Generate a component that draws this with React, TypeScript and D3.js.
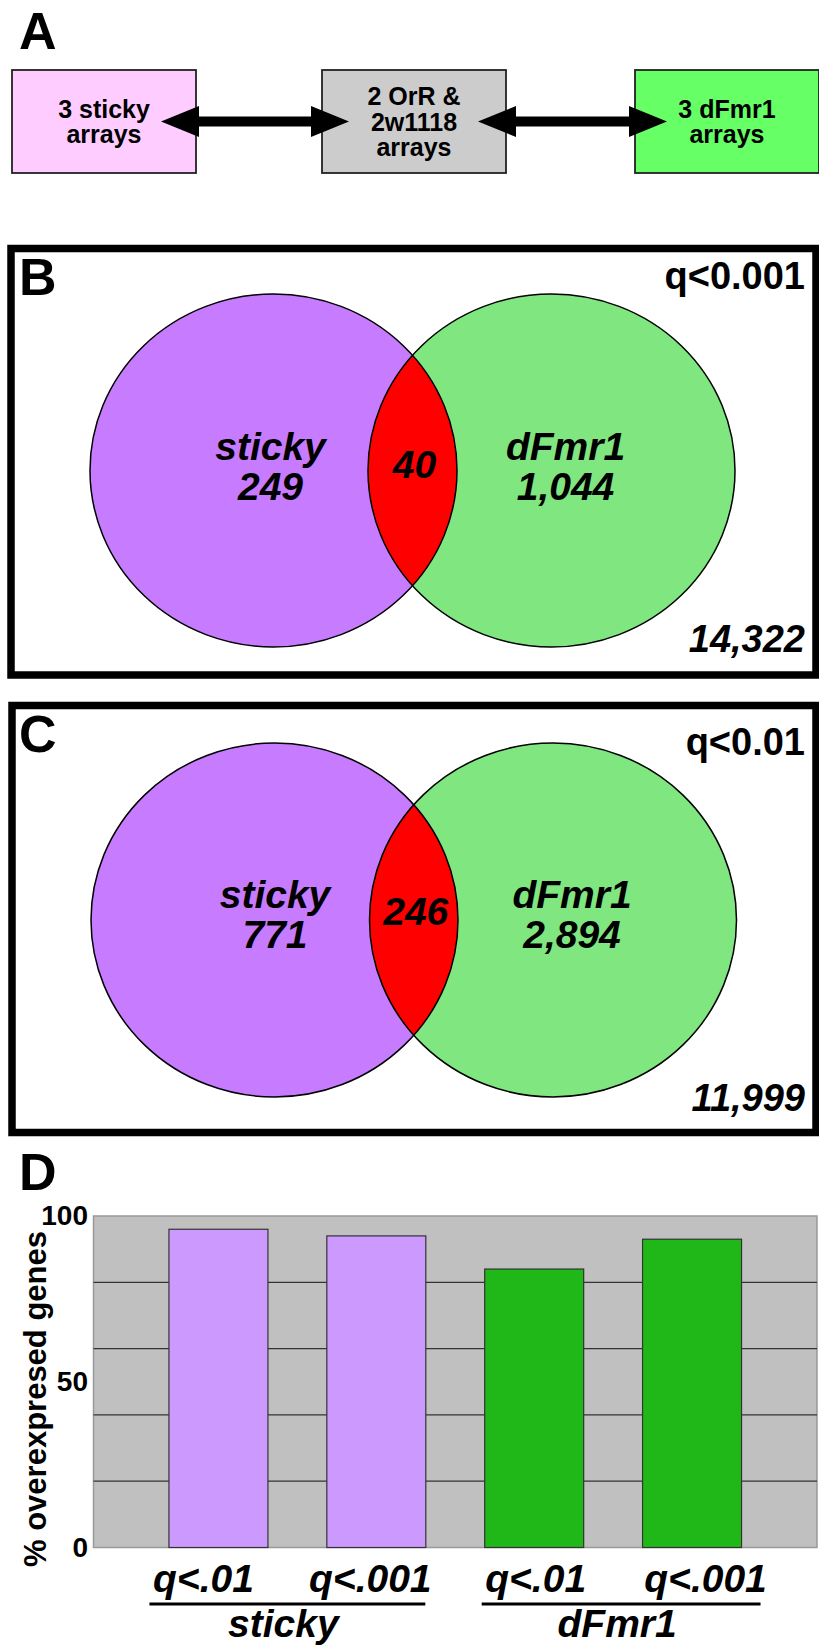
import React from "react";
import * as d3 from "d3";

// ---------- Data ----------
const flowBoxes = [
  { lines: ["3 sticky", "arrays"], fill: "#ffccff" },
  { lines: ["2 OrR &", "2w1118", "arrays"], fill: "#cccccc" },
  { lines: ["3 dFmr1", "arrays"], fill: "#66ff66" },
];

const vennThresholds = ["q<0.001", "q<0.01"];
const vennStickyCounts = ["249", "771"];
const vennOverlapCounts = ["40", "246"];
const vennDfmr1Counts = ["1,044", "2,894"];
const vennTotals = ["14,322", "11,999"];
const vennSetNames = ["sticky", "dFmr1"];

const barCategories = ["q<.01", "q<.001", "q<.01", "q<.001"];
const barGroups = ["sticky", "sticky", "dFmr1", "dFmr1"];
const barValues = [96, 94, 84, 93];
const groupNames = ["sticky", "dFmr1"];
const yTickLabels = [0, 50, 100];
const yGridValues = [20, 40, 60, 80];

// ---------- Styles ----------
const FONT = "'Liberation Sans', Arial, Helvetica, sans-serif";
const groupColor: Record<string, string> = { sticky: "#cc99ff", dFmr1: "#20b818" };

const W = 819;
const H = 1648;

function Arrow({ x1, x2, y }: { x1: number; x2: number; y: number }) {
  const hl = 38, hh = 15.5, sh = 5;
  const pts = [
    [x1, y],
    [x1 + hl, y - hh],
    [x1 + hl, y - sh],
    [x2 - hl, y - sh],
    [x2 - hl, y - hh],
    [x2, y],
    [x2 - hl, y + hh],
    [x2 - hl, y + sh],
    [x1 + hl, y + sh],
    [x1 + hl, y + hh],
  ];
  return <polygon points={pts.map((p) => p.join(",")).join(" ")} fill="#000" />;
}

function Venn({ i, panel }: { i: number; panel: any }) {
  const { rect, cy, lcx, rcx, rx, ry, letter } = panel;
  const clipId = `clipL${i}`;
  const tx = { fontFamily: FONT, fontWeight: "bold", fontStyle: "italic", fontSize: 39 } as any;
  return (
    <g>
      <defs>
        <clipPath id={clipId}>
          <ellipse cx={lcx} cy={cy} rx={rx} ry={ry} />
        </clipPath>
      </defs>
      <rect x={rect.x} y={rect.y} width={rect.w} height={rect.h} fill="#fff" stroke="#000" strokeWidth={7.5} />
      <ellipse cx={lcx} cy={cy} rx={rx} ry={ry} fill="#c77cff" />
      <ellipse cx={rcx} cy={cy} rx={rx} ry={ry} fill="#80e680" />
      <ellipse cx={rcx} cy={cy} rx={rx} ry={ry} fill="#ff0000" clipPath={`url(#${clipId})`} />
      <ellipse cx={lcx} cy={cy} rx={rx} ry={ry} fill="none" stroke="#000" strokeWidth={1.5} />
      <ellipse cx={rcx} cy={cy} rx={rx} ry={ry} fill="none" stroke="#000" strokeWidth={1.5} />
      <text x={19} y={rect.y + letter} fontFamily={FONT} fontWeight="bold" fontSize={52}>
        {i === 0 ? "B" : "C"}
      </text>
      <text x={805} y={rect.y + panel.qy} textAnchor="end" fontFamily={FONT} fontWeight="bold" fontSize={38}>
        {vennThresholds[i]}
      </text>
      <text {...tx} x={lcx + panel.ldx} y={cy - panel.up} textAnchor="middle">{vennSetNames[0]}</text>
      <text {...tx} x={lcx + panel.ldx} y={cy + panel.down} textAnchor="middle">{vennStickyCounts[i]}</text>
      <text {...tx} x={(lcx + rcx) / 2 + 2} y={cy + panel.mid} textAnchor="middle">{vennOverlapCounts[i]}</text>
      <text {...tx} x={rcx + panel.rdx} y={cy - panel.up} textAnchor="middle">{vennSetNames[1]}</text>
      <text {...tx} x={rcx + panel.rdx} y={cy + panel.down} textAnchor="middle">{vennDfmr1Counts[i]}</text>
      <text {...tx} x={805} y={panel.totalY} textAnchor="end" fontSize={38}>{vennTotals[i]}</text>
    </g>
  );
}

const vennPanels = [
  { rect: { x: 11, y: 248.5, w: 805, h: 426.5 }, cy: 470.5, lcx: 273.5, rcx: 551.5, rx: 183.5, ry: 176.5,
    letter: 46.5, qy: 40, ldx: -3, rdx: 14, up: 10.5, down: 29.5, mid: 7, totalY: 652 },
  { rect: { x: 12, y: 705.5, w: 804, h: 427 }, cy: 920, lcx: 274.5, rcx: 553, rx: 183.5, ry: 177,
    letter: 46, qy: 49.5, ldx: 0.5, rdx: 19, up: 12, down: 28, mid: 5, totalY: 1111 },
];

export default function App() {
  // Panel D scales
  const plot = { left: 93.5, right: 817, top: 1216, bottom: 1547.5 };
  const y = d3.scaleLinear().domain([0, 100]).range([plot.bottom, plot.top]);
  const idx = barValues.map((_, i) => i);
  const x = d3
    .scaleBand<number>()
    .domain(idx)
    .range([plot.left, plot.right])
    .paddingInner(0.373)
    .paddingOuter(0.478);
  const labelShift = [-15, -6, 1.5, 13.5];
  const labelCenters = idx.map((i) => (x(i) as number) + x.bandwidth() / 2 + labelShift[i]);
  const groupSpans = groupNames.map((g) => {
    const members = idx.filter((i) => barGroups[i] === g);
    const a = labelCenters[members[0]] - 54;
    const b = labelCenters[members[members.length - 1]] + 55;
    return { g, a, b };
  });

  // Panel A layout
  const boxX = [12, 322, 635];
  const boxW = 184;
  const boxY = 70, boxH = 103;

  return (
    <svg
      width={W}
      height={H}
      viewBox={`0 0 ${W} ${H}`}
      style={{ position: "absolute", left: 0, top: 0, display: "block", background: "#fff" }}
    >
      {/* Panel A */}
      <text x={19} y={49} fontFamily={FONT} fontWeight="bold" fontSize={52}>A</text>
      {flowBoxes.map((b, i) => {
        const cx = boxX[i] + boxW / 2;
        const n = b.lines.length;
        const lh = 25.5;
        const firstBase = boxY + boxH / 2 + 9 - ((n - 1) * lh) / 2;
        return (
          <g key={i}>
            <rect x={boxX[i]} y={boxY} width={boxW} height={boxH} fill={b.fill} stroke="#222" strokeWidth={1.8} />
            {b.lines.map((l, j) => (
              <text key={j} x={cx} y={firstBase + j * lh} textAnchor="middle" fontFamily={FONT} fontWeight="bold" fontSize={25}>
                {l}
              </text>
            ))}
          </g>
        );
      })}
      <Arrow x1={161} x2={349} y={121.5} />
      <Arrow x1={478} x2={667} y={121.5} />

      {/* Panels B and C */}
      {vennPanels.map((p, i) => (
        <Venn key={i} i={i} panel={p} />
      ))}

      {/* Panel D */}
      <text x={19} y={1190} fontFamily={FONT} fontWeight="bold" fontSize={52}>D</text>
      <rect x={plot.left} y={plot.top} width={plot.right - plot.left} height={plot.bottom - plot.top} fill="#c0c0c0" stroke="#999" strokeWidth={1.5} />
      {yGridValues.map((v) => (
        <line key={v} x1={plot.left} x2={plot.right} y1={y(v)} y2={y(v)} stroke="#333" strokeWidth={1.2} />
      ))}
      {idx.map((i) => (
        <rect
          key={i}
          x={x(i)}
          y={y(barValues[i])}
          width={x.bandwidth()}
          height={y(0) - y(barValues[i])}
          fill={groupColor[barGroups[i]]}
          stroke="#333"
          strokeWidth={1.2}
        />
      ))}
      {yTickLabels.map((v) => (
        <text key={v} x={88} y={y(v) + 9} textAnchor="end" fontFamily={FONT} fontWeight="bold" fontSize={28}>
          {v}
        </text>
      ))}
      <text
        transform={`translate(46, 1399) rotate(-90)`}
        textAnchor="middle"
        fontFamily={FONT}
        fontWeight="bold"
        fontSize={31}
      >
        % overexpresed genes
      </text>
      {idx.map((i) => (
        <text key={i} x={labelCenters[i]} y={1592} textAnchor="middle" fontFamily={FONT} fontWeight="bold" fontStyle="italic" fontSize={39}>
          {barCategories[i]}
        </text>
      ))}
      {groupSpans.map((s) => (
        <g key={s.g}>
          <line x1={s.a} x2={s.b} y1={1604} y2={1604} stroke="#000" strokeWidth={3} />
          <text x={(s.a + s.b) / 2 - 4} y={1637} textAnchor="middle" fontFamily={FONT} fontWeight="bold" fontStyle="italic" fontSize={39}>
            {s.g}
          </text>
        </g>
      ))}
    </svg>
  );
}
